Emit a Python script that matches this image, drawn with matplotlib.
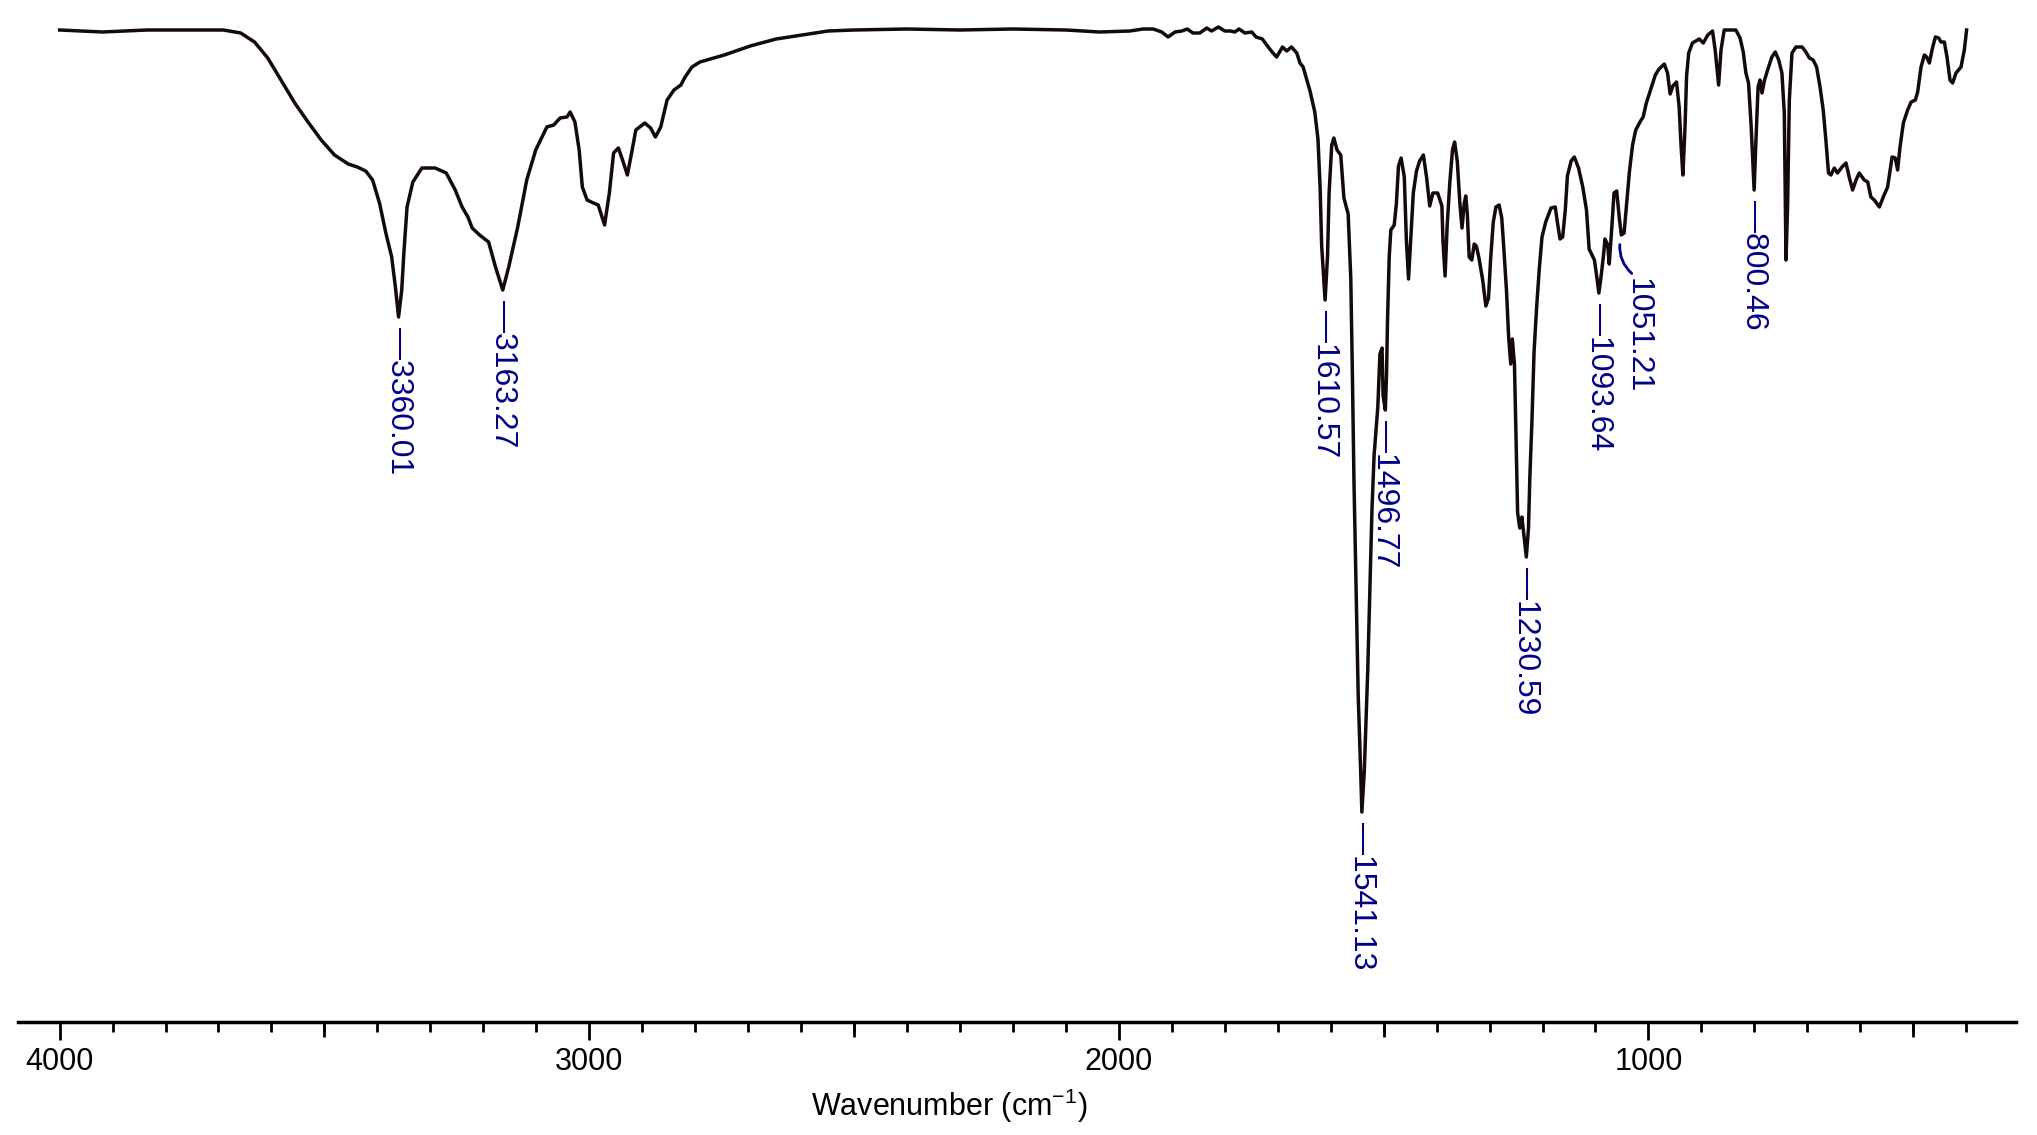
import numpy as np
import matplotlib
matplotlib.use('Agg')
import matplotlib.pyplot as plt
from matplotlib import markers

plt.rcParams['font.family'] = ['Liberation Sans', 'DejaVu Sans']
plt.rcParams['mathtext.fontset'] = 'custom'
plt.rcParams['mathtext.rm'] = 'Liberation Sans'
plt.rcParams['mathtext.it'] = 'Liberation Sans:italic'
plt.rcParams['mathtext.bf'] = 'Liberation Sans:bold'

# IR spectrum (wavenumber in cm-1, transmittance in %)
wavenumber = [
    4000, 3919, 3835, 3750, 3691, 3658, 3632, 3607, 3582, 3556, 3531, 3506, 3481, 3455,
    3438, 3422, 3409, 3396, 3384, 3373, 3366, 3360.01, 3354, 3350, 3344, 3333, 3316,
    3291, 3270, 3253, 3240, 3229, 3221, 3207, 3190, 3177, 3163.27, 3152, 3135, 3118,
    3101, 3080, 3067, 3055, 3042, 3036, 3027, 3019, 3013, 3004, 2992, 2983, 2971, 2962,
    2954, 2945, 2937, 2928, 2920, 2912, 2895, 2884, 2875, 2865, 2853, 2840, 2827, 2819,
    2806, 2791, 2745, 2696, 2647, 2598, 2549, 2500, 2400, 2300, 2200, 2100, 2036, 1979,
    1954, 1935, 1919, 1907, 1894, 1881, 1871, 1860, 1847, 1834, 1825, 1812, 1800, 1789,
    1781, 1773, 1762, 1749, 1741, 1729, 1718, 1709, 1702, 1691, 1683, 1674, 1664, 1658,
    1652, 1639, 1630, 1624, 1620, 1617, 1610.57, 1606, 1603, 1598, 1594, 1588, 1581,
    1575, 1567, 1562, 1559, 1556, 1552, 1548, 1543.4, 1541.13, 1536.5, 1530, 1526, 1522,
    1518, 1511, 1507, 1503, 1501, 1496.77, 1494.6, 1492.7, 1489.5, 1486.4, 1480, 1476,
    1472, 1467, 1461, 1457, 1453, 1449, 1444, 1438, 1432, 1425, 1419, 1413, 1407, 1398,
    1390, 1388, 1384, 1380, 1375, 1370, 1366, 1361, 1356, 1352, 1348, 1345, 1342,
    1338.5, 1333.5, 1329, 1325, 1320, 1313, 1307, 1302, 1298, 1293, 1288, 1282, 1277,
    1273, 1268, 1264, 1260, 1257, 1253, 1250, 1247, 1243, 1239, 1235, 1230.59, 1226.5,
    1224, 1220, 1216, 1211, 1206, 1201, 1194, 1184, 1176, 1172, 1167, 1162, 1157, 1153,
    1146, 1140, 1132, 1124, 1117, 1112, 1102, 1098, 1093.64, 1090, 1085, 1082, 1077,
    1074, 1069, 1065, 1060, 1055, 1051.21, 1046, 1041, 1036, 1030, 1024, 1016, 1010,
    1004, 995, 987, 980, 970, 964, 959, 954, 947, 942, 938.5, 935, 931, 928, 924, 917,
    904, 896.5, 888, 879, 874, 867.5, 863, 857, 847, 835, 827, 821, 816, 811, 806,
    800.46, 797, 793, 789.4, 785.6, 781.3, 775, 767, 760.5, 754, 748, 743.5, 740.3,
    737.3, 734, 729, 721.5, 710, 704, 696, 689, 682.5, 676, 670, 665, 660, 655.4, 649,
    643, 634.5, 627, 621, 614.5, 608, 602, 592.5, 586, 580, 573.6, 564, 556.6, 548.4,
    540, 534, 529.5, 525, 518.7, 510.6, 504, 496, 491.7, 485.3, 479, 474.7, 469.6,
    464.6, 458.3, 452, 447.5, 441.3, 436.3, 430.6, 425.6, 419.3, 409.8, 403.6, 399.3,
]
transmittance = [
    99.8, 99.6, 99.8, 99.8, 99.8, 99.5, 98.6, 97.0, 94.8, 92.5, 90.6, 88.8, 87.3, 86.4,
    86.1, 85.7, 84.8, 82.5, 79.5, 77.1, 74.1, 71.1, 73.8, 77.5, 82.1, 84.6, 86.0,
    86.0, 85.5, 83.8, 82.1, 81.1, 80.0, 79.3, 78.6, 76.1, 73.8, 76.1, 80.1, 84.8,
    87.8, 90.1, 90.3, 91.0, 91.1, 91.6, 90.6, 87.8, 84.1, 82.8, 82.5, 82.3, 80.3, 83.5,
    87.5, 88.0, 86.8, 85.3, 87.5, 89.8, 90.5, 90.0, 89.1, 90.1, 92.8, 93.8, 94.3, 95.1,
    96.1, 96.6, 97.3, 98.2, 98.9, 99.3, 99.7, 99.8, 99.9, 99.8, 99.9, 99.8, 99.6, 99.7,
    99.9, 99.9, 99.6, 99.1, 99.6, 99.7, 99.9, 99.5, 99.5, 100.0, 99.7, 100.1, 99.7, 99.7,
    99.6, 99.9, 99.5, 99.6, 99.1, 98.9, 98.1, 97.5, 97.1, 98.1, 97.7, 98.1, 97.5, 96.5,
    96.1, 93.7, 91.6, 88.9, 84.1, 78.2, 72.8, 77.1, 83.5, 88.3, 89.0, 87.8, 87.3,
    83.0, 81.4, 74.9, 65.3, 54.6, 43.9, 33.2, 25.7, 21.6, 25.7, 35.8, 43.9, 51.9,
    57.3, 62.1, 67.4, 68.0, 63.2, 61.8, 65.3, 70.7, 77.1, 79.8, 80.3, 82.4,
    86.2, 87.0, 85.1, 78.7, 74.9, 78.7, 83.5, 85.7, 86.7, 87.3, 85.1, 82.2, 83.5, 83.5,
    82.2, 78.7, 75.2, 80.3, 84.6, 87.8, 88.6, 86.7, 82.4, 80.0, 82.4, 83.2, 81.4,
    77.1, 76.8, 78.4, 78.2, 77.0, 74.8, 72.2, 73.0, 76.9, 80.6, 82.1, 82.3, 81.0,
    77.9, 73.7, 69.1, 66.4, 68.9, 66.4, 58.8, 51.5, 50.0, 51.1, 49.2, 47.1, 50.0,
    55.0, 60.7, 67.6, 72.2, 76.0, 79.1, 80.6, 82.0, 82.1, 80.6, 78.9, 79.1, 81.8, 85.2,
    86.7, 87.1, 86.0, 84.1, 81.8, 77.9, 76.8, 75.3, 73.5, 74.9, 77.2, 78.9, 78.3,
    76.4, 80.2, 83.5, 83.7, 81.0, 79.3, 79.5, 82.5, 85.6, 88.3, 89.8, 90.6, 91.1,
    92.5, 94.0, 95.3, 95.9, 96.4, 95.5, 93.4, 94.2, 94.6, 92.1, 88.3, 85.3, 90.0, 95.2, 97.5, 98.5,
    98.9, 98.5, 99.3, 99.7, 97.8, 94.3, 97.8, 99.8, 99.8, 99.8, 99.0, 97.6, 95.5, 94.5, 90.1,
    83.8, 88.8, 94.1, 94.8, 93.5, 94.7, 95.8, 97.1, 97.6, 96.8, 95.5, 91.5, 76.8,
    82.1, 92.8, 97.5, 98.1, 98.1, 97.7, 97.0, 96.8, 96.1, 94.1, 91.8, 88.8, 85.5, 85.3, 86.0,
    85.5, 86.1, 86.5, 85.1, 83.8, 84.8, 85.5, 84.8, 84.6, 83.1, 82.8, 82.1, 83.1, 84.1,
    87.1, 87.0, 85.8, 88.1, 90.5, 91.8, 92.6, 92.8, 93.6, 96.1, 97.3, 97.1, 96.5,
    97.8, 99.1, 99.0, 98.6, 98.6, 97.1, 94.8, 94.5, 95.5, 96.1, 97.8, 99.8,
]

peak_wn = [3360.01, 3163.27, 1610.57, 1541.13, 1496.77, 1230.59, 1093.64, 1051.21, 800.46]
peak_labels = ['3360.01', '3163.27', '1610.57', '1541.13', '1496.77', '1230.59', '1093.64',
               '1051.21', '800.46']

major_ticks = [4000, 3000, 2000, 1000]
mid_ticks = [3500, 2500, 1500, 500]
minor_ticks = list(range(4000, 399, -100))

navy = '#000088'
wn = np.array(wavenumber)
tr = np.array(transmittance)

fig = plt.figure(figsize=(20.37, 11.35), dpi=100)
ax = fig.add_axes([18.3 / 2037, 1 - 1021.7 / 1135, (2016 - 18.3) / 2037, 1021.7 / 1135])
ax.plot(wn, tr, color='#140a0a', lw=2.5, solid_joinstyle='round')
ax.set_xlim(4078, 306)
ax.set_ylim(0.63, 102.8)

for s in ['top', 'right', 'left']:
    ax.spines[s].set_visible(False)
ax.spines['bottom'].set_linewidth(2.5)
ax.set_yticks([])
ax.set_xticks(major_ticks)
ax.set_xticklabels([str(t) for t in major_ticks])
ax.set_xticks(minor_ticks, minor=True)
ax.tick_params(axis='x', which='major', length=13, width=2, pad=5, labelsize=22)
ax.tick_params(axis='x', which='minor', length=7.5, width=2)
ax.plot(mid_ticks, np.zeros(len(mid_ticks)), transform=ax.get_xaxis_transform(),
        ls='none', marker=markers.TICKDOWN, markersize=11, mew=2, color='k', clip_on=False)

ax.set_xlabel('Wavenumber (cm$^{-1}$)', fontsize=22)
ax.xaxis.set_label_coords((949.5 - 18.3) / 1997.7, -84.3 / 1021.7)
ax.xaxis.label.set_va('center')

# peak labels
rw, rt = wn[::-1], tr[::-1]
for w, s in zip(peak_wn, peak_labels):
    t = np.interp(w, rw, rt)
    if s == '1051.21':
        ax.annotate(s, xy=(w, t), xytext=(11.7, -31), textcoords='offset points',
                    rotation=270, ha='center', va='top', fontsize=23, color=navy,
                    arrowprops=dict(arrowstyle='-', color=navy, lw=2, shrinkA=2, shrinkB=7,
                                    relpos=(0.5, 1.0), connectionstyle='arc3,rad=-0.35'))
    else:
        ax.annotate('\u2014' + s, xy=(w, t), xytext=(0, -7), textcoords='offset points',
                    rotation=270, ha='center', va='top', fontsize=23, color=navy)

fig.savefig('out.png', dpi=100)
